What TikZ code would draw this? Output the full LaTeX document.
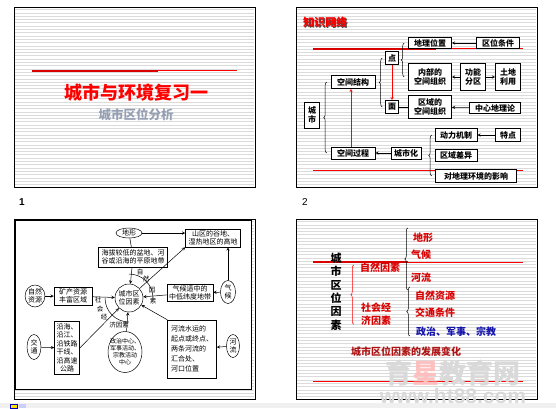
\documentclass[tikz,border=0pt]{standalone}
\usepackage{fontspec}
\setmainfont{Liberation Sans}
\newfontfamily\cjk{Noto Sans CJK SC}
\usepackage{xcolor}
\usetikzlibrary{arrows, positioning, calc, shapes.geometric, decorations.pathreplacing}

\definecolor{subgray}{RGB}{150,160,180}
\definecolor{darkred}{RGB}{175,20,20}
\definecolor{tblue}{RGB}{20,20,170}

\tikzset{
  stripe/.style={gray!28, line width=0.5pt},
  frm/.style={draw=black, line width=0.8pt},
  kbox/.style={rectangle, draw=black, fill=white, line width=0.6pt, inner sep=0.8pt, align=center, font=\cjk\bfseries\fontsize{8}{9.5}\selectfont},
  sbox/.style={rectangle, draw=black, fill=white, line width=0.5pt, inner sep=1pt, align=center, font=\cjk\fontsize{7}{8.5}\selectfont},
  sell/.style={ellipse, draw=black, fill=white, line width=0.5pt, inner sep=0pt, align=center, font=\cjk\fontsize{7}{8.5}\selectfont},
  rtxt/.style={text=red!85!black, inner sep=1pt, align=center, font=\cjk\bfseries\fontsize{10}{12.5}\selectfont},
  brc/.style={decorate, decoration={brace, amplitude=3pt}, line width=0.5pt},
  pfeil/.style={->, line width=0.5pt}
}

\begin{document}
\begin{tikzpicture}[x=1pt, y=-1pt, >=stealth]
      \useasboundingbox (0,0) rectangle (556,408);
      \fill[white] (0,0) rectangle (556,408);

      % Folie 1
      \foreach \i in {0,...,53} \draw[stripe] (15,{9.5+3.3*\i}) -- (254,{9.5+3.3*\i});
      \draw[frm] (14,7) rectangle (255,187);
      \draw[red!85!black, line width=2.5pt] (32,71) -- (158,71);
      \draw[red, line width=0.8pt] (158,70) -- (237,70);
      \node[text=red, font=\cjk\bfseries\fontsize{18}{18}\selectfont] (titel) at (136,93) {城市与环境复习一};
      \node[text=subgray, font=\cjk\bfseries\fontsize{12.5}{13}\selectfont] (untertitel) at (136,115) {城市区位分析};
      \node[font=\bfseries\fontsize{10}{10}\selectfont] (nr1) at (22,202) {1};

      % Folie 2
      \foreach \i in {0,...,53} \draw[stripe] (297,{9.5+3.3*\i}) -- (536,{9.5+3.3*\i});
      \draw[frm] (296,7) rectangle (537,187);
      \draw[red!85!black, line width=2.5pt] (313,49) -- (436,49);
      \draw[red, line width=0.8pt] (436,48.5) -- (523,48.5);
      \draw[red, line width=0.7pt] (313,170) -- (523,170);
      \node[text=black!70, font=\cjk\bfseries\fontsize{11}{11}\selectfont] (wissenschatten) at (326,23) {知识网络};
      \node[text=red, font=\cjk\bfseries\fontsize{11}{11}\selectfont] (wissen) at (325,22) {知识网络};

      \node[kbox, minimum width=43, minimum height=11] (dlwz) at (430,43) {地理位置};
      \node[kbox, minimum width=43, minimum height=11] (qwtj) at (498,43) {区位条件};
      \node[kbox, minimum width=13, minimum height=13] (dian) at (392,58) {点};
      \node[kbox, minimum width=43, minimum height=27] (nbzz) at (430,77) {内部的\\空间组织};
      \node[kbox, minimum width=25, minimum height=27] (gnfq) at (473,77) {功能\\分区};
      \node[kbox, minimum width=25, minimum height=27] (tdly) at (508,77) {土地\\利用};
      \node[kbox, minimum width=44, minimum height=13] (kjjg) at (353,82) {空间结构};
      \node[kbox, minimum width=13, minimum height=13] (mian) at (392,107) {面};
      \node[kbox, minimum width=43, minimum height=23] (qyzz) at (430,107) {区域的\\空间组织};
      \node[kbox, minimum width=51, minimum height=11] (zxdl) at (495,108) {中心地理论};
      \node[kbox, minimum width=15, minimum height=26] (stadt) at (312,115) {城\\市};
      \node[kbox, minimum width=44, minimum height=12] (kjgc) at (353,153) {空间过程};
      \node[kbox, minimum width=30, minimum height=12] (csh) at (406,153) {城市化};
      \node[kbox, minimum width=42, minimum height=13] (dljz) at (456,135) {动力机制};
      \node[kbox, minimum width=25, minimum height=13] (tedian) at (508,135) {特点};
      \node[kbox, minimum width=42, minimum height=12] (qycy) at (456,155) {区域差异};
      \node[kbox, minimum width=81, minimum height=13] (dhj) at (476,176) {对地理环境的影响};

      \draw[brc] ($(nbzz.west)+(-4,0)$) -- ($(dlwz.west)+(-4,0)$);
      \draw[brc] ($(mian.west)+(-3,0)$) -- ($(dian.west)+(-3,0)$);
      \draw[brc] ($(kjgc.west)+(-4,0)$) -- ($(kjjg.west)+(-4,0)$);
      \draw[brc] ($(dljz.west |- dhj.west)+(-3,0)$) -- ($(dljz.west)+(-3,0)$);

      \draw[pfeil] (qwtj) -- (dlwz);
      \draw[pfeil] (gnfq) -- (nbzz);
      \draw[pfeil] (gnfq) -- (tdly);
      \draw[pfeil] (zxdl) -- (qyzz);
      \draw[line width=0.5pt] (mian) -- (qyzz);
      \draw[pfeil, red] (dian) -- (mian);
      \draw[pfeil, red] (kjgc.north -| 351,0) -- (kjjg.south -| 351,0);
      \draw[pfeil] (csh) -- (kjgc);
      \draw[pfeil] (tedian) -- (dljz);
      \node[font=\fontsize{10}{10}\selectfont] (nr2) at (305,202) {2};

      % Folie 3
      \foreach \i in {0,...,53} \draw[stripe] (15,{221.5+3.3*\i}) -- (254,{221.5+3.3*\i});
      \draw[frm] (14,219) rectangle (255,399);
      \draw[fill=white, line width=0.5pt] (15,220) rectangle (251,389);

      \node[sell, minimum width=26, minimum height=10] (dixing) at (129,233) {地形};
      \node[sbox, minimum width=55, minimum height=18] (sqgd) at (213,238) {山区的谷地、\\湿热地区的高地};
      \node[sbox, minimum width=69, minimum height=20] (hbjd) at (133,257) {海拔较低的盆地、河\\谷或沿海的平原地带};
      \node[sell, circle, minimum size=28] (qwys) at (129,298) {城市区\\位因素};
      \node[sbox, minimum width=46, minimum height=17] (qhsz) at (190,293) {气候适中的\\中低纬度地带};
      \node[sell, minimum width=15, minimum height=23] (qihou) at (228,292) {气\\候};
      \node[sell, minimum width=17, minimum height=22] (zrzy) at (35,296) {自然\\资源};
      \node[sbox, minimum width=38, minimum height=18] (kczy) at (73,296) {矿产资源\\丰富区域};
      \node[sell, minimum width=14, minimum height=25] (verkehr) at (34,347) {交\\通};
      \node[sbox, minimum width=25, minimum height=53] (yanhai) at (67,348) {沿海、\\沿江、\\沿铁路\\干线、\\沿高速\\公路};
      \node[sell, minimum width=34, minimum height=41, inner sep=-4pt, font=\cjk\fontsize{6}{7}\selectfont] (zzzx) at (125,352) {政治中心、\\军事活动、\\宗教活动\\中心};
      \node[sbox, align=left, minimum width=49, minimum height=58, font=\cjk\fontsize{7}{10}\selectfont] (hlsy) at (192,349) {河流水运的\\起点或终点、\\两条河流的\\汇合处、\\河口位置};
      \node[sell, minimum width=13, minimum height=23] (fluss) at (233,346) {河\\流};

      \draw[pfeil] (dixing.east) -- (dixing.east -| sqgd.west);
      \draw[line width=0.5pt] (dixing) -- (hbjd);
      \draw[pfeil] (hbjd) -- (qwys);
      \draw[pfeil] (qwys) -- (sqgd.south west);
      \draw[pfeil] (qihou) -- (qihou |- sqgd.south);
      \draw[pfeil] (qihou) -- (qhsz);
      \draw[pfeil] (qhsz) -- (qwys);
      \draw[pfeil] (zrzy) -- (kczy);
      \draw[pfeil] (kczy) -- (qwys);
      \draw[pfeil] (verkehr) -- (yanhai);
      \draw[pfeil] (yanhai.east) -- (qwys);
      \draw[pfeil] (zzzx) -- (qwys);
      \draw[pfeil] (fluss) -- (hlsy);
      \draw[pfeil] (hlsy.north west) -- (qwys);

      % Boegen
      \draw[line width=0.5pt] ($(qwys)+(-90:24)$) arc[start angle=-90, end angle=0, radius=24];
      \draw[line width=0.5pt] ($(qwys)+(90:24)$) arc[start angle=90, end angle=180, radius=24];
      \node[font=\cjk\fontsize{6.5}{6.5}\selectfont, inner sep=0pt] (zi) at (140,272) {自};
      \node[font=\cjk\fontsize{6.5}{6.5}\selectfont, inner sep=0pt] (ran) at (146,279) {然};
      \node[font=\cjk\fontsize{6.5}{6.5}\selectfont, inner sep=0pt] (yin) at (152,290) {因};
      \node[font=\cjk\fontsize{6.5}{6.5}\selectfont, inner sep=0pt] (su) at (153,301) {素};
      \node[font=\cjk\fontsize{6.5}{6.5}\selectfont, inner sep=0pt] (she) at (98,300) {社};
      \node[font=\cjk\fontsize{6.5}{6.5}\selectfont, inner sep=0pt] (hui) at (100,309) {会};
      \node[font=\cjk\fontsize{6.5}{6.5}\selectfont, inner sep=0pt] (jing) at (104,317) {经};
      \node[font=\cjk\fontsize{6.5}{6.5}\selectfont, inner sep=0pt] (jys) at (119,325) {济因素};

      % Folie 4
      \foreach \i in {0,...,53} \draw[stripe] (297,{221.5+3.3*\i}) -- (536,{221.5+3.3*\i});
      \draw[frm] (296,219) rectangle (537,399);
      \draw[red!85!black, line width=2.5pt] (313,262) -- (408,262);
      \draw[red, line width=0.8pt] (408,262) -- (523,262);
      \draw[red, line width=0.7pt] (313,381) -- (523,381);

      % Wasserzeichen
      \node[text=gray!30, font=\cjk\bfseries\fontsize{27}{27}\selectfont, inner sep=0pt] (wz) at (453,373) {育\textcolor{red!25}{星}教育网};
      \node[text=gray!30, font=\bfseries\fontsize{21}{21}\selectfont, inner sep=0pt] (url) at (453,396) {www.ht88.com};

      \node[font=\cjk\bfseries\fontsize{11}{13.4}\selectfont, align=center, inner sep=0pt] (csqw) at (336,291.5) {城\\市\\区\\位\\因\\素};
      \node[rtxt] (zrys) at (380,268) {自然因素};
      \node[rtxt] (shjj) at (376,314) {社会经\\济因素};
      \node[rtxt] (dx) at (423,238) {地形};
      \node[rtxt] (qh) at (421,255) {气候};
      \node[rtxt] (hl) at (421,278) {河流};
      \node[rtxt] (zy) at (435,296) {自然资源};
      \node[rtxt] (jt) at (435,313) {交通条件};
      \node[rtxt, text=tblue] (zz) at (456,332) {政治、军事、宗教};
      \node[rtxt, text=darkred] (fzbh) at (406,352) {城市区位因素的发展变化};

      \draw[brc, red] ($(zrys.west |- shjj.south)+(-5,-2)$) -- ($(zrys.west)+(-5,-3)$);
      \draw[brc] ($(hl.west)+(-2,12)$) -- ($(hl.west |- dx.north)+(-2,-4)$);
      \draw[brc] ($(zz.west)+(-5,4)$) -- ($(zz.west |- zy.north)+(-5,-3)$);

      % Leiste unten
      \fill[gray!12] (0,403) rectangle (556,408);
      \draw[fill=yellow!80!orange, draw=blue!70!black, line width=0.6pt] (10,404) rectangle (17,408);
      \fill[blue!20] (19,404) rectangle (26,408);
\end{tikzpicture}
\end{document}
